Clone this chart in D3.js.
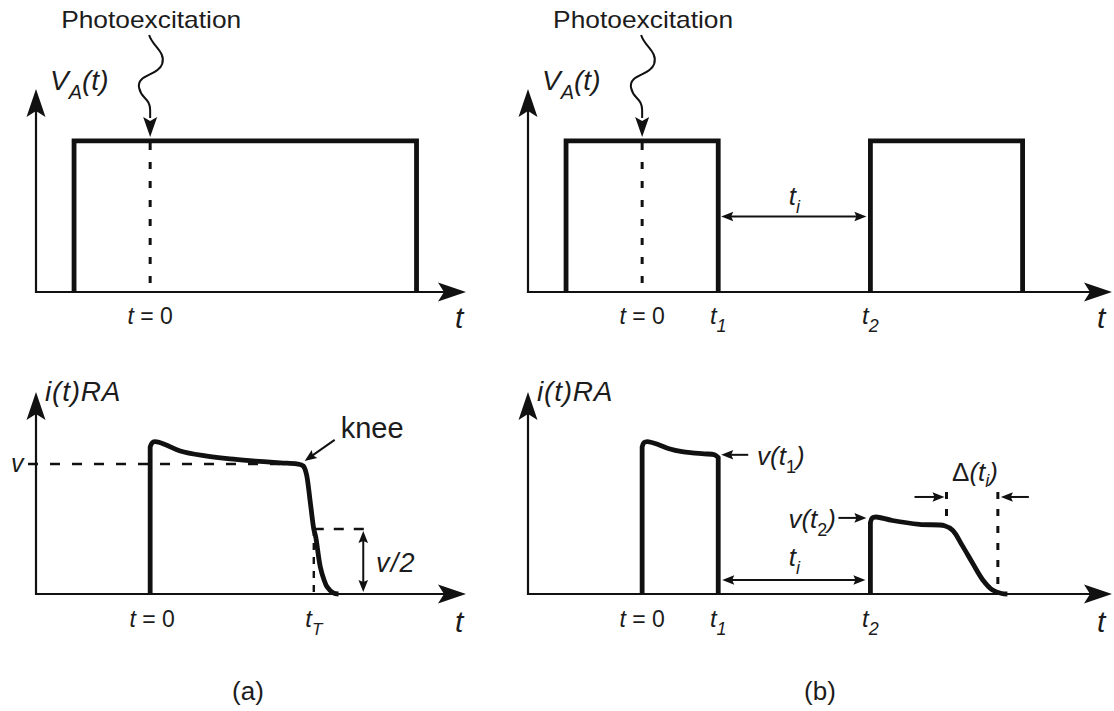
<!DOCTYPE html>
<html>
<head>
<meta charset="utf-8">
<script src="https://cdn.jsdelivr.net/npm/d3@7"></script>
<style>
  html, body { margin: 0; padding: 0; background: #fff; }
  svg { display: block; font-family: "Liberation Sans", Arial, Helvetica, sans-serif; }
</style>
</head>
<body>
<svg id="fig" width="1114" height="711"></svg>
<script>
// ---- time axes (arbitrary units, t = 0 at photoexcitation) ----
const timeDomainA = [-30, 83];
const timeDomainB = [-30, 123.5];
// ---- amplitude axes (normalised: bias pulse height = 1, v = 1) ----
const biasDomain = [0, 1.344];
const currentDomain = [0, 1.553];

// applied bias pulses [start, end]
const biasPulsesA = [[-20, 70]];
const biasPulsesB = [[-20, 20], [60, 100]];

// photocurrent traces [t, i(t)RA / v]
const currentA = [
  [0, 0], [0, 1.13], [0.6, 1.165], [1.4, 1.172], [3.9, 1.15], [7.9, 1.1],
  [14.5, 1.062], [21, 1.038], [27.6, 1.022], [34.2, 1.008], [38.5, 1.0],
  [40.2, 0.985], [41, 0.93], [42.1, 0.7], [43, 0.5], [43.5, 0.44],
  [44.7, 0.21], [45.7, 0.108], [46.5, 0.054], [48.1, 0.008], [49.5, 0]
];
const currentB1 = [
  [0, 0], [0, 1.13], [0.5, 1.165], [1.4, 1.172], [4.5, 1.146], [7.1, 1.117],
  [10.5, 1.094], [13.2, 1.085], [16.3, 1.078], [19, 1.07], [20, 1.05], [20, 0]
];
const currentB2 = [
  [60, 0], [60, 0.55], [60.5, 0.585], [61.5, 0.592], [65.8, 0.565],
  [72.9, 0.535], [79.5, 0.525], [81.6, 0.49], [84.2, 0.37], [86.8, 0.24],
  [89.5, 0.11], [92.1, 0.03], [94.5, 0.004], [96, 0]
];

// marked instants and levels
const t0 = 0, t1 = 20, t2 = 60;
const tTransit = 43, tKnee = 38.5;
const deltaStart = 80, deltaEnd = 93.5;
const vLevel = 1, halfLevel = 0.5;
const v1Level = 1.07, v2Level = 0.585;

// ---- layout ----
const svg = d3.select("#fig");
const ink = "#111";
const txt = "#1c1c1c";

const xA = d3.scaleLinear().domain(timeDomainA).range([36, 466]);
const xB = d3.scaleLinear().domain(timeDomainB).range([528, 1112]);
const yTop = d3.scaleLinear().domain(biasDomain).range([292, 89]);
const yBot = d3.scaleLinear().domain(currentDomain).range([594, 392]);

// barbed arrow head, tip at (x, y), pointing along angle (deg)
function head(g, x, y, angle, L, W, N) {
  g.append("path")
    .attr("d", `M0,0 L${-L},${-W} L${-L + N},0 L${-L},${W} Z`)
    .attr("transform", `translate(${x},${y}) rotate(${angle})`)
    .attr("fill", ink);
}

function axes(g, xs, ys) {
  const ox = xs.range()[0], oy = ys.range()[0];
  const tx = xs.range()[1], ty = ys.range()[1];
  g.append("line").attr("x1", ox).attr("y1", oy).attr("x2", tx - 20).attr("y2", oy)
    .attr("stroke", ink).attr("stroke-width", 2.2);
  g.append("line").attr("x1", ox).attr("y1", oy + 1).attr("x2", ox).attr("y2", ty + 20)
    .attr("stroke", ink).attr("stroke-width", 2.2);
  head(g, tx, oy, 0, 28, 9.5, 6);
  head(g, ox, ty, -90, 28, 9.5, 6);
}

function arrow(g, x1, y1, x2, y2, both) {
  const ang = Math.atan2(y2 - y1, x2 - x1) * 180 / Math.PI;
  const len = Math.hypot(x2 - x1, y2 - y1);
  const ux = (x2 - x1) / len, uy = (y2 - y1) / len;
  g.append("line")
    .attr("x1", both ? x1 + ux * 7 : x1).attr("y1", both ? y1 + uy * 7 : y1)
    .attr("x2", x2 - ux * 7).attr("y2", y2 - uy * 7)
    .attr("stroke", ink).attr("stroke-width", 2);
  head(g, x2, y2, ang, 12, 4.8, 2);
  if (both) head(g, x1, y1, ang + 180, 12, 4.8, 2);
}

function dashed(g, x1, y1, x2, y2, dash, w) {
  g.append("line").attr("x1", x1).attr("y1", y1).attr("x2", x2).attr("y2", y2)
    .attr("stroke", ink).attr("stroke-width", w || 2.6)
    .attr("stroke-dasharray", dash);
}

// text made of runs: {s, it, size, dy (baseline offset)}
function rich(g, x, y, parts, anchor) {
  const t = g.append("text").attr("x", x).attr("y", y)
    .attr("text-anchor", anchor || "start").attr("fill", txt);
  let shift = 0;
  parts.forEach(p => {
    const ts = t.append("tspan").text(p.s)
      .attr("font-size", p.size)
      .attr("font-style", p.it ? "italic" : "normal");
    const target = p.dy || 0;
    if (target !== shift) { ts.attr("dy", target - shift); shift = target; }
    if (p.dx) ts.attr("dx", p.dx);
  });
  return t;
}

const tSub = (sub, size, subSize, drop) => [
  { s: "t", it: true, size: size },
  { s: sub, it: true, size: subSize, dy: drop }
];

// wavy photoexcitation arrow ending on the top of the bias pulse
function photo(g, x) {
  g.append("text").attr("x", x + 1).attr("y", 28).attr("text-anchor", "middle")
    .attr("font-size", 24).attr("fill", txt)
    .attr("textLength", 180).attr("lengthAdjust", "spacingAndGlyphs")
    .text("Photoexcitation");
  g.append("path")
    .attr("d", `M${x - 1},35 C${x + 2},46 ${x + 16},52 ${x + 12},64 ` +
               `C${x + 8},76 ${x - 14},74 ${x - 11},88 C${x - 9},99 ${x},98 ${x},110 L${x},118`)
    .attr("fill", "none").attr("stroke", ink).attr("stroke-width", 2);
  head(g, x, 137, 90, 20, 7, 4);
}

function pulses(g, xs, list) {
  list.forEach(([a, b]) => {
    g.append("path")
      .attr("d", d3.line()([[xs(a), yTop(0)], [xs(a), yTop(1)], [xs(b), yTop(1)], [xs(b), yTop(0)]]))
      .attr("fill", "none").attr("stroke", ink).attr("stroke-width", 4.8)
      .attr("stroke-linejoin", "miter");
  });
}

// vertical edges (equal t) are straight segments; the rest is a smooth curve
function currentPath(g, xs, data) {
  const pts = data.map(d => [xs(d[0]), yBot(d[1])]);
  const n = pts.length;
  const lastVertical = data[n - 1][0] === data[n - 2][0];
  const mid = pts.slice(1, lastVertical ? n - 1 : n);
  const smooth = d3.line().curve(d3.curveCatmullRom.alpha(0.5))(mid).replace(/^M/, "L");
  let d = `M${pts[0][0]},${pts[0][1]}` + smooth;
  if (lastVertical) d += `L${pts[n - 1][0]},${pts[n - 1][1]}`;
  g.append("path").attr("d", d)
    .attr("fill", "none").attr("stroke", ink).attr("stroke-width", 4.8)
    .attr("stroke-linejoin", "round").attr("stroke-linecap", "butt");
}

// ================= (a) =================
const gA = svg.append("g");
// top: applied bias
dashed(gA, xA(t0), yTop(1) + 2, xA(t0), yTop(0), "7,12", 3);
axes(gA, xA, yTop);
pulses(gA, xA, biasPulsesA);
photo(gA, xA(t0));
rich(gA, 50, 90, [
  { s: "V", it: true, size: 28 }, { s: "A", it: true, size: 20, dy: 9 },
  { s: "(t)", it: true, size: 28, dy: 0 }
]);
rich(gA, xA(t0), 324, [{ s: "t", it: true, size: 23 }, { s: " = 0", size: 23 }], "middle");
rich(gA, 455, 328, [{ s: "t", it: true, size: 30 }]);

// bottom: photocurrent
dashed(gA, 28, yBot(vLevel), xA(tKnee), yBot(vLevel), "10,12", 2.6);
dashed(gA, xA(tTransit), yBot(halfLevel), xA(57), yBot(halfLevel), "10,10", 2.6);
dashed(gA, xA(tTransit), yBot(halfLevel), xA(tTransit), yBot(0), "7,7", 2.4);
axes(gA, xA, yBot);
currentPath(gA, xA, currentA);
arrow(gA, xA(56), yBot(halfLevel) + 2, xA(56), yBot(0) - 2, true);
rich(gA, 45, 401, [{ s: "i(t)RA", it: true, size: 28 }]).attr("letter-spacing", 0.8);
rich(gA, 11, 472, [{ s: "v", it: true, size: 25 }]);
rich(gA, 376, 572, [{ s: "v/2", it: true, size: 27 }]).attr("letter-spacing", 1.2);
arrow(gA, xA(tKnee) + 38, yBot(vLevel) - 24, xA(tKnee) + 8, yBot(vLevel) - 3);
rich(gA, xA(tKnee) + 44, 438, [{ s: "knee", size: 29 }]);
rich(gA, xA(t0) + 2, 627, [{ s: "t", it: true, size: 23 }, { s: " = 0", size: 23 }], "middle");
rich(gA, xA(tTransit), 627, tSub("T", 24, 17, 8), "middle");
rich(gA, 455, 632, [{ s: "t", it: true, size: 30 }]);
rich(gA, 248, 700, [{ s: "(a)", size: 26 }], "middle");

// ================= (b) =================
const gB = svg.append("g");
dashed(gB, xB(t0), yTop(1) + 2, xB(t0), yTop(0), "7,12", 3);
axes(gB, xB, yTop);
pulses(gB, xB, biasPulsesB);
photo(gB, xB(t0));
rich(gB, 542, 90, [
  { s: "V", it: true, size: 28 }, { s: "A", it: true, size: 20, dy: 9 },
  { s: "(t)", it: true, size: 28, dy: 0 }
]);
arrow(gB, xB(t1) + 3, yTop(0.5), xB(t2) - 4, yTop(0.5), true);
rich(gB, (xB(t1) + xB(t2)) / 2, 205, tSub("i", 26, 18, 8), "middle");
rich(gB, xB(t0), 324, [{ s: "t", it: true, size: 23 }, { s: " = 0", size: 23 }], "middle");
rich(gB, xB(t1), 324, tSub("1", 24, 18, 8), "middle");
rich(gB, xB(t2), 324, tSub("2", 24, 18, 8), "middle");
rich(gB, 1097, 328, [{ s: "t", it: true, size: 30 }]);

// bottom: photocurrent for two pulses
dashed(gB, xB(deltaStart), yBot(0.785), xB(deltaStart), yBot(0.53), "7,10", 3);
dashed(gB, xB(deltaEnd), yBot(0.785), xB(deltaEnd), yBot(0), "7,10", 3);
axes(gB, xB, yBot);
currentPath(gB, xB, currentB1);
currentPath(gB, xB, currentB2);
rich(gB, 537, 401, [{ s: "i(t)RA", it: true, size: 28 }]).attr("letter-spacing", 0.8);
arrow(gB, xB(t1) + 30, yBot(v1Level), xB(t1) + 3, yBot(v1Level));
rich(gB, 757, 465, [
  { s: "v(", it: true, size: 26 }, { s: "t", it: true, size: 26 },
  { s: "1", size: 18, dy: 8 }, { s: ")", it: true, size: 26, dy: 0 }
]);
arrow(gB, xB(t2) - 32, yBot(v2Level), xB(t2) - 4, yBot(v2Level));
rich(gB, 836, 528, [
  { s: "v(", it: true, size: 26 }, { s: "t", it: true, size: 26 },
  { s: "2", size: 18, dy: 8 }, { s: ")", it: true, size: 26, dy: 0 }
], "end");
arrow(gB, xB(t1) + 4, yBot(0.108), xB(t2) - 5, yBot(0.108), true);
rich(gB, (xB(t1) + xB(t2)) / 2, 566, tSub("i", 26, 18, 8), "middle");
arrow(gB, xB(deltaStart) - 32, yBot(0.746), xB(deltaStart) - 2, yBot(0.746));
arrow(gB, xB(deltaEnd) + 31, yBot(0.746), xB(deltaEnd) + 3, yBot(0.746));
rich(gB, 952, 481, [
  { s: "\u0394", size: 26 }, { s: "(t", it: true, size: 26 },
  { s: "i", it: true, size: 18, dy: 6 }, { s: ")", it: true, size: 26, dy: 0 }
]);
rich(gB, xB(t0), 627, [{ s: "t", it: true, size: 23 }, { s: " = 0", size: 23 }], "middle");
rich(gB, xB(t1), 627, tSub("1", 24, 18, 8), "middle");
rich(gB, xB(t2), 627, tSub("2", 24, 18, 8), "middle");
rich(gB, 1097, 632, [{ s: "t", it: true, size: 30 }]);
rich(gB, 820, 700, [{ s: "(b)", size: 26 }], "middle");
</script>
</body>
</html>
